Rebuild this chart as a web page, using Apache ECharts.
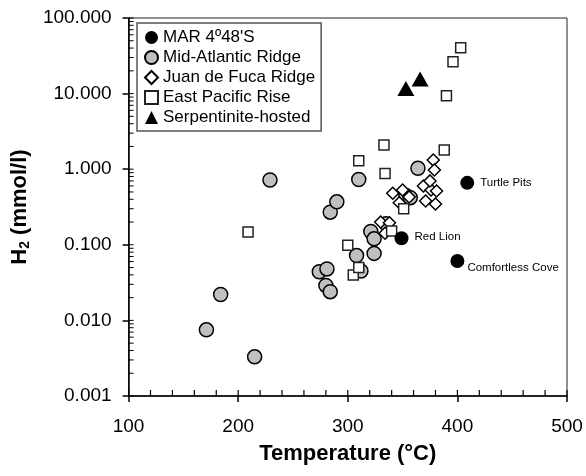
<!DOCTYPE html>
<html>
<head>
<meta charset="utf-8">
<script src="https://cdn.jsdelivr.net/npm/echarts@6/dist/echarts.min.js"></script>
<style>
  html, body { margin: 0; padding: 0; background: #fff; }
  #main { width: 586px; height: 476px; }
</style>
</head>
<body>
<div id="main"></div>
<script>
var myChart = echarts.init(document.getElementById('main'));

// MAR 4º48'S vent fields
var marTemp = [349, 400, 409];
var marH2 = [0.122, 0.061, 0.66];
var marNames = ['Red Lion', 'Comfortless Cove', 'Turtle Pits'];

// Mid-Atlantic Ridge
var atlTemp = [171, 184, 215, 229, 274, 280, 281, 284, 284, 290, 308, 310, 312, 321, 324, 324, 335, 353, 357, 364];
var atlH2 = [0.0075, 0.022, 0.0033, 0.72, 0.044, 0.029, 0.048, 0.024, 0.27, 0.37, 0.072, 0.73, 0.045, 0.15, 0.12, 0.077, 0.19, 0.45, 0.42, 1.03];

// Juan de Fuca Ridge
var jdfTemp = [330, 334, 338, 341, 347, 350, 356, 369, 371, 376, 375, 378, 379, 381, 380];
var jdfH2 = [0.20, 0.142, 0.196, 0.48, 0.36, 0.53, 0.43, 0.60, 0.38, 0.53, 0.70, 1.32, 0.975, 0.515, 0.347];

// East Pacific Rise
var eprTemp = [209, 300, 305, 310, 310, 333, 334, 340, 351, 388, 390, 396, 403];
var eprH2 = [0.148, 0.099, 0.040, 0.050, 1.29, 2.09, 0.88, 0.152, 0.30, 1.8, 9.4, 26.4, 40.5];

// Serpentinite-hosted
var serpTemp = [353, 366];
var serpH2 = [11.7, 15.6];

// axis ticks
var xMajor = [100, 200, 300, 400, 500];
var xMinorStep = 20;
var yDecades = [0.001, 0.01, 0.1, 1, 10, 100];

var labelPos = {
  'Red Lion': [20, 6],
  'Comfortless Cove': [17, 14],
  'Turtle Pits': [20, 7]
};

function zip(xs, ys) {
  return xs.map(function (x, i) { return [x, ys[i]]; });
}

// inner tick marks (minor + inside half of the major ones)
var xTickData = [];
for (var t = xMajor[0]; t <= xMajor[xMajor.length - 1]; t += xMinorStep) {
  xTickData.push([t, yDecades[0]]);
}
var yTickData = [];
yDecades.forEach(function (d, i) {
  yTickData.push([xMajor[0], d]);
  if (i < yDecades.length - 1) {
    for (var k = 2; k <= 9; k++) yTickData.push([xMajor[0], d * k]);
  }
});

var font = 'Liberation Sans, Arial, sans-serif';

var option = {
  animation: false,
  textStyle: { fontFamily: font },
  grid: {
    left: 127,
    right: 19,
    top: 18,
    bottom: 80,
    show: true,
    borderColor: '#222',
    borderWidth: 1
  },
  legend: {
    data: ["MAR 4º48'S", 'Mid-Atlantic Ridge', 'Juan de Fuca Ridge', 'East Pacific Rise', 'Serpentinite-hosted'],
    orient: 'vertical',
    left: 137,
    top: 23,
    padding: [6, 6, 5, 7],
    itemGap: 3,
    itemWidth: 13,
    itemHeight: 13,
    itemTextGap: 3,
    borderColor: '#555',
    borderWidth: 1.5,
    backgroundColor: '#fff',
    textStyle: { fontSize: 17, color: '#000', fontFamily: font }
  },
  xAxis: {
    type: 'value',
    min: 100,
    max: 500,
    interval: 100,
    name: 'Temperature (°C)',
    nameLocation: 'middle',
    nameGap: 47,
    nameTextStyle: { fontSize: 22, fontWeight: 'bold', color: '#000', fontFamily: font },
    axisLine: { lineStyle: { color: '#000', width: 1.5 } },
    axisTick: { show: true, length: 6, lineStyle: { color: '#000', width: 1.5 } },
    axisLabel: { fontSize: 19, color: '#000', margin: 21, fontFamily: font },
    splitLine: { show: false }
  },
  yAxis: {
    type: 'log',
    logBase: 10,
    min: 0.001,
    max: 100,
    name: '{a|H}{s|2}{a| (mmol/l)}',
    nameLocation: 'middle',
    nameGap: 93,
    nameTextStyle: {
      rich: {
        a: { fontSize: 22, fontWeight: 'bold', color: '#000', fontFamily: font, lineHeight: 24 },
        s: { fontSize: 14, fontWeight: 'bold', color: '#000', fontFamily: font, lineHeight: 24, verticalAlign: 'bottom', padding: [10, 0, 0, 0] }
      }
    },
    axisLine: { lineStyle: { color: '#000', width: 1.5 } },
    axisTick: { show: true, length: 6, lineStyle: { color: '#000', width: 1.5 } },
    axisLabel: {
      fontSize: 19,
      color: '#000',
      margin: 17,
      fontFamily: font,
      formatter: function (v) { return Number(v).toFixed(3); }
    },
    splitLine: { show: false }
  },
  series: [
    {
      name: 'Mid-Atlantic Ridge',
      type: 'scatter',
      symbol: 'circle',
      symbolSize: 14,
      itemStyle: { color: '#c0c0c0', borderColor: '#000', borderWidth: 1.5, opacity: 1 },
      data: zip(atlTemp, atlH2)
    },
    {
      name: 'Juan de Fuca Ridge',
      type: 'scatter',
      symbol: 'diamond',
      symbolSize: 12,
      itemStyle: { color: '#fff', borderColor: '#000', borderWidth: 1.5, opacity: 1 },
      data: zip(jdfTemp, jdfH2)
    },
    {
      name: 'East Pacific Rise',
      type: 'scatter',
      symbol: 'rect',
      symbolSize: 10,
      itemStyle: { color: '#fff', borderColor: '#222', borderWidth: 1.5, opacity: 1 },
      data: zip(eprTemp, eprH2)
    },
    {
      name: "MAR 4º48'S",
      type: 'scatter',
      symbol: 'circle',
      symbolSize: 14,
      itemStyle: { color: '#000', opacity: 1 },
      label: {
        show: true,
        fontSize: 11.5,
        color: '#000',
        fontFamily: font,
        verticalAlign: 'middle',
        formatter: function (p) { return p.name; }
      },
      data: marTemp.map(function (t, i) {
        return { name: marNames[i], value: [t, marH2[i]], label: { position: labelPos[marNames[i]] } };
      })
    },
    {
      name: 'Serpentinite-hosted',
      type: 'scatter',
      symbol: 'triangle',
      symbolSize: [17, 15],
      itemStyle: { color: '#000', opacity: 1 },
      data: zip(serpTemp, serpH2)
    },
    {
      type: 'custom',
      silent: true,
      data: xTickData,
      renderItem: function (params, api) {
        var p = api.coord([api.value(0), api.value(1)]);
        return {
          type: 'line',
          shape: { x1: p[0], y1: p[1], x2: p[0], y2: p[1] - 6 },
          style: { stroke: '#000', lineWidth: 1.2 }
        };
      }
    },
    {
      type: 'custom',
      silent: true,
      data: yTickData,
      renderItem: function (params, api) {
        var p = api.coord([api.value(0), api.value(1)]);
        return {
          type: 'line',
          shape: { x1: p[0], y1: p[1], x2: p[0] + 5, y2: p[1] },
          style: { stroke: '#000', lineWidth: 1 }
        };
      }
    }
  ]
};

myChart.setOption(option);
</script>
</body>
</html>
